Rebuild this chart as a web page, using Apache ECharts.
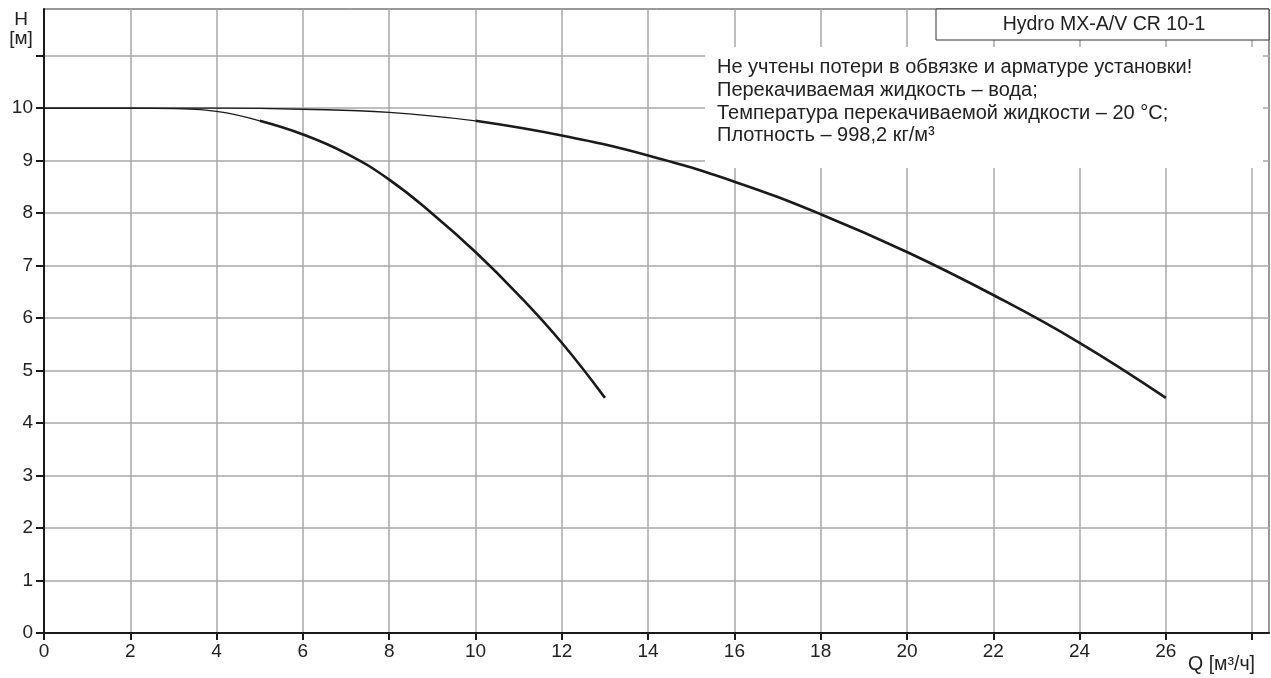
<!DOCTYPE html>
<html><head><meta charset="utf-8">
<script src="https://cdn.jsdelivr.net/npm/echarts@6/dist/echarts.min.js"></script>
<style>html,body{margin:0;padding:0;background:#fff}#c{width:1271px;height:678px}</style>
</head><body><div id="c"></div>
<script>
// Curve A (to 26 m3/h): thin part and thick (operating) part
const qA_thin = [0, 2, 4, 6, 8, 10];
const hA_thin = [10, 10, 10, 9.98, 9.92, 9.76];
const qA_thick = [10, 12, 14, 16, 18, 20, 22, 24, 26];
const hA_thick = [9.76, 9.48, 9.1, 8.6, 7.98, 7.26, 6.44, 5.53, 4.48];
// Curve B (to 13 m3/h)
const qB_thin = [0, 1, 2, 3, 4, 5];
const hB_thin = [10, 10, 10, 9.99, 9.94, 9.76];
const qB_thick = [5, 6, 7, 8, 9, 10, 11, 12, 13];
const hB_thick = [9.76, 9.5, 9.14, 8.64, 7.99, 7.26, 6.44, 5.53, 4.48];

const xTicks = [0,2,4,6,8,10,12,14,16,18,20,22,24,26];
const xTickMarks = [0,2,4,6,8,10,12,14,16,18,20,22,24,26,28];
const yTicks = [0,1,2,3,4,5,6,7,8,9,10];
const yTickMarks = [0,1,2,3,4,5,6,7,8,9,10,11];
const titleText = 'Hydro MX-A/V CR 10-1';
const notes = ['Не учтены потери в обвязке и арматуре установки!',
  'Перекачиваемая жидкость – вода;',
  'Температура перекачиваемой жидкости – 20 °C;',
  'Плотность – 998,2 кг/м³'];
const yName = ['H', '[м]'];
const xName = 'Q [м³/ч]';

const pair = (xs, ys) => xs.map((x, i) => [x, ys[i]]);
const FONT = '"Liberation Sans", Arial, sans-serif';
const TXT = '#222';

function line(data, w) {
  return { type: 'line', data: data, showSymbol: false, smooth: 0.45,
    lineStyle: { color: '#1a1a1a', width: w }, z: 3, silent: true, animation: false };
}

const chart = echarts.init(document.getElementById('c'), null, { renderer: 'canvas' });
chart.setOption({
  animation: false,
  backgroundColor: '#fff',
  grid: { left: 44, right: 2, top: 9, bottom: 45, show: true, borderColor: '#333', borderWidth: 1, containLabel: false },
  xAxis: {
    type: 'value', min: 0, max: 28.39, interval: 2,
    axisLine: { show: true, onZero: false, lineStyle: { color: '#1a1a1a', width: 2 } },
    axisTick: { show: true, length: 7, customValues: xTickMarks, lineStyle: { color: '#1a1a1a', width: 2 } },
    axisLabel: { margin: 9, fontSize: 19, fontFamily: FONT, color: TXT, customValues: xTicks },
    splitLine: { show: true, lineStyle: { color: '#a8a8a8', width: 1.5 } }
  },
  yAxis: {
    type: 'value', min: 0, max: 11.89, interval: 1,
    axisLine: { show: true, onZero: false, lineStyle: { color: '#1a1a1a', width: 2 } },
    axisTick: { show: true, length: 8, customValues: yTickMarks, lineStyle: { color: '#1a1a1a', width: 2 } },
    axisLabel: { margin: 11, fontSize: 19, fontFamily: FONT, color: TXT, customValues: yTicks },
    splitLine: { show: true, lineStyle: { color: '#a8a8a8', width: 1.5 } }
  },
  series: [
    line(pair(qA_thin, hA_thin), 1.3),
    line(pair(qA_thick, hA_thick), 2.6),
    line(pair(qB_thin, hB_thin), 1.3),
    line(pair(qB_thick, hB_thick), 2.6)
  ],
  graphic: [
    { type: 'rect', z: 1, shape: { x: 705, y: 47, width: 558, height: 121 }, style: { fill: '#fff' } },
    { type: 'rect', z: 4, shape: { x: 936, y: 9, width: 333, height: 31 }, style: { fill: '#fff', stroke: '#333', lineWidth: 1 } },
    { type: 'text', z: 5, style: { text: titleText, x: 1104, y: 25, align: 'center', verticalAlign: 'middle', font: '19.5px ' + FONT, fill: TXT } },
    { type: 'text', z: 5, style: { text: notes.join('\n'), x: 717, y: 56, align: 'left', verticalAlign: 'top', lineHeight: 22.8, font: '20px ' + FONT, fill: TXT } },
    { type: 'text', z: 5, style: { text: yName.join('\n'), x: 21, y: 10, align: 'center', verticalAlign: 'top', lineHeight: 19, font: '19px ' + FONT, fill: TXT } },
    { type: 'text', z: 5, style: { text: xName, x: 1255, y: 665, align: 'right', verticalAlign: 'middle', font: '19.5px ' + FONT, fill: TXT } }
  ]
});
</script></body></html>
